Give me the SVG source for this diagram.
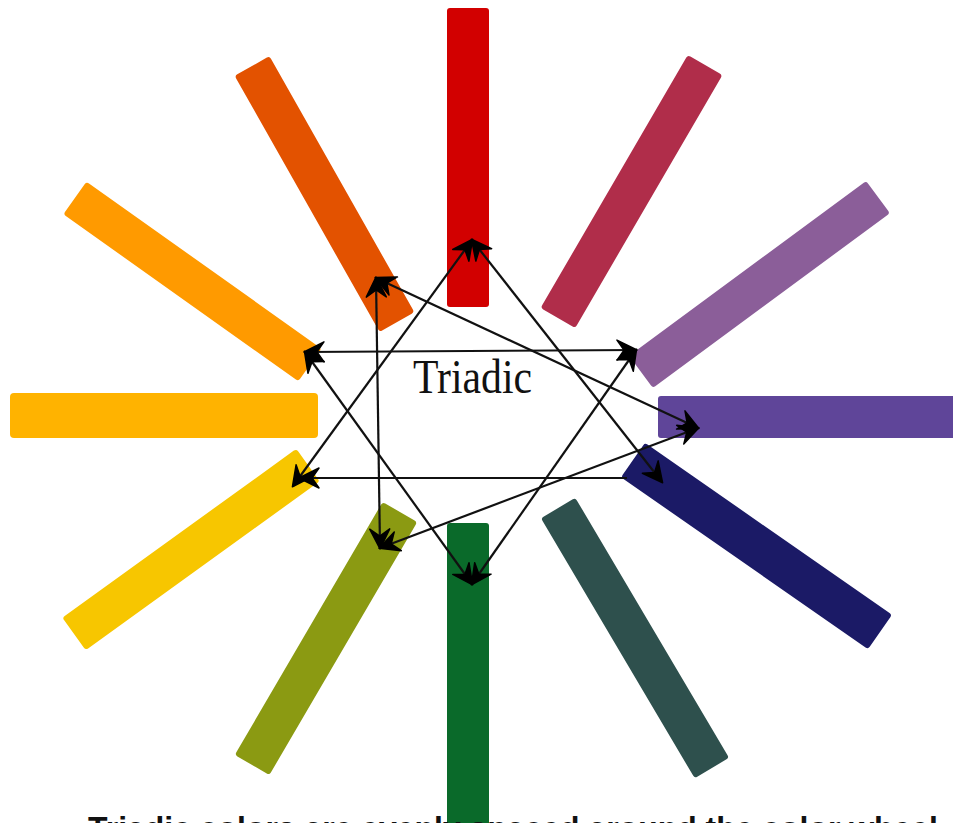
<svg xmlns="http://www.w3.org/2000/svg" width="953" height="823" viewBox="0 0 953 823">
<style>
.bar{stroke:none}
.con{stroke:#111;stroke-width:2.2;fill:none}
.lbl{font-family:"Liberation Serif","DejaVu Serif",serif;fill:#111}
.cap{font-family:"Liberation Sans","DejaVu Sans",sans-serif;font-weight:bold;fill:#111}
.ah{fill:#000;stroke:#000;stroke-width:1.5;stroke-linejoin:round}
</style>
<defs>
<marker id="ae" viewBox="-24 -13 28 26" refX="0" refY="0" markerWidth="28" markerHeight="26" markerUnits="userSpaceOnUse" orient="auto">
<path class="ah" d="M1,0 L-19,-10 L-12,0 L-19,10 Z"/>
</marker>
<marker id="as" viewBox="-4 -13 28 26" refX="0" refY="0" markerWidth="28" markerHeight="26" markerUnits="userSpaceOnUse" orient="auto">
<path class="ah" d="M-1,0 L19,-10 L12,0 L19,10 Z"/>
</marker>
</defs>
<rect width="953" height="823" fill="#fff"/>
<g id="bar-red"><rect class="bar" x="447" y="8" width="42" height="299" rx="3" fill="#d20000"/></g>
<g id="bar-crimson"><rect class="bar" x="-146.3" y="-20" width="292.6" height="40" rx="3" fill="#b02d4a" transform="translate(631.5,191.5) rotate(120.2)"/></g>
<g id="bar-lilac"><rect class="bar" x="-147.3" y="-20" width="294.6" height="40" rx="3" fill="#8b5e99" transform="translate(759.5,284.5) rotate(143.6)"/></g>
<g id="bar-violet"><rect class="bar" x="658" y="396" width="300" height="42" rx="3" fill="#5f4599"/></g>
<g id="bar-navy"><rect class="bar" x="-150.5" y="-21" width="301" height="42" rx="3" fill="#1b1a66" transform="translate(756.5,546) rotate(34.85)"/></g>
<g id="bar-slate"><rect class="bar" x="-151" y="-20" width="302" height="40" rx="3" fill="#2e504d" transform="translate(635,638) rotate(59.4)"/></g>
<g id="bar-green"><rect class="bar" x="447" y="523" width="42" height="310" rx="3" fill="#0a6a2a"/></g>
<g id="bar-olive"><rect class="bar" x="-146.5" y="-20" width="293" height="40" rx="3" fill="#8b9a12" transform="translate(326,638.5) rotate(120.3)"/></g>
<g id="bar-yellow"><rect class="bar" x="-144.3" y="-20" width="288.6" height="40" rx="3" fill="#f7c600" transform="translate(191,549.5) rotate(144.2)"/></g>
<g id="bar-amber"><rect class="bar" x="10" y="393" width="308" height="45" rx="4" fill="#ffb300"/></g>
<g id="bar-orange"><rect class="bar" x="-144.2" y="-20" width="288.3" height="40" rx="3" fill="#ff9a00" transform="translate(192.5,281.5) rotate(35.4)"/></g>
<g id="bar-redorange"><rect class="bar" x="-147.1" y="-20" width="294.2" height="40" rx="3" fill="#e35200" transform="translate(324.5,194) rotate(60.5)"/></g>
<g id="connectors">
<line class="con" x1="472" y1="240" x2="293" y2="486" marker-start="url(#as)" marker-end="url(#ae)"/>
<line class="con" x1="472" y1="240" x2="662" y2="482" marker-start="url(#as)" marker-end="url(#ae)"/>
<line class="con" x1="300" y1="478" x2="627" y2="478" marker-start="url(#as)"/>
<line class="con" x1="305" y1="352" x2="636" y2="350" marker-start="url(#as)" marker-end="url(#ae)"/>
<line class="con" x1="305" y1="352" x2="472" y2="584" marker-start="url(#as)" marker-end="url(#ae)"/>
<line class="con" x1="636" y1="350" x2="472" y2="584" marker-start="url(#as)" marker-end="url(#ae)"/>
<line class="con" x1="376" y1="278" x2="698" y2="428" marker-start="url(#as)" marker-end="url(#ae)"/>
<line class="con" x1="698" y1="428" x2="380" y2="548" marker-start="url(#as)" marker-end="url(#ae)"/>
<line class="con" x1="380" y1="548" x2="376" y2="278" marker-start="url(#as)" marker-end="url(#ae)"/>
</g>
<g id="label"><text class="lbl" x="413" y="393" font-size="48" textLength="119" lengthAdjust="spacingAndGlyphs">Triadic</text></g>
<g id="caption"><text class="cap" x="88" y="840" font-size="34" textLength="850" lengthAdjust="spacingAndGlyphs">Triadic colors are evenly spaced around the color wheel</text></g>
</svg>
